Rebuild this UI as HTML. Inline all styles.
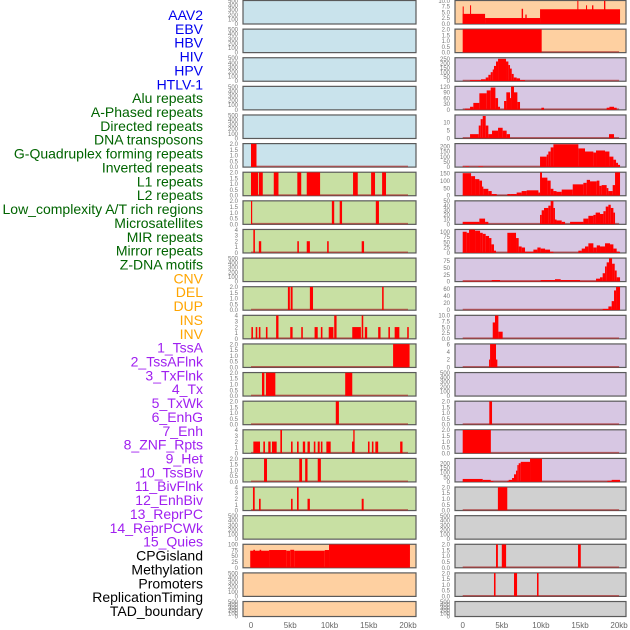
<!DOCTYPE html>
<html><head><meta charset="utf-8"><style>
body{margin:0;background:#fff;}
svg{display:block;font-family:"Liberation Sans",sans-serif;}
</style></head><body>
<svg id="chart" width="630" height="630" viewBox="0 0 630 630"></svg>
<script>
const labels=["AAV2","EBV","HBV","HIV","HPV","HTLV-1","Alu repeats","A-Phased repeats","Directed repeats","DNA transposons","G-Quadruplex forming repeats","Inverted repeats","L1 repeats","L2 repeats","Low_complexity A/T rich regions","Microsatellites","MIR repeats","Mirror repeats","Z-DNA motifs","CNV","DEL","DUP","INS","INV","1_TssA","2_TssAFlnk","3_TxFlnk","4_Tx","5_TxWk","6_EnhG","7_Enh","8_ZNF_Rpts","9_Het","10_TssBiv","11_BivFlnk","12_EnhBiv","13_ReprPC","14_ReprPCWk","15_Quies","CPGisland","Methylation","Promoters","ReplicationTiming","TAD_boundary"];
const labelGroups=[6,13,5,15,5];
const groupColors=["#0000ee","#006400","#ffa500","#a020f0","#000000"];
const xTicks=[0,5,10,15,20];
const xTickLabels=["0","5kb","10kb","15kb","20kb"];
const leftBg=["b","b","b","b","b","b","g","g","g","g","g","g","g","g","g","g","g","g","g","p","p","p"];
const rightBg=["p","p","l","l","l","l","l","l","l","l","l","l","l","l","l","l","l","y","y","y","y","y"];
const leftYmax=[500,500,500,500,500,2,2,2,4,500,2,4,2,2,2,4,2,4,500,100,500,500];
const rightYmax=[10,2,260,120,14.5,225,155,50,110,85,65,10,6,500,2,2,250,2,500,2,2,500];
const leftSegs=[[],[],[],[],[],
[[0,0.7,2]],
[[0,0.9,2],[1.0,1.5,2],[2.9,3.5,2],[5.9,6.4,2],[7.1,8.8,2],[13,13.6,2],[15.3,15.8,2],[16.7,17.2,2]],
[[0,0.15,2],[10.3,10.6,2],[11.3,11.6,2],[15.9,16.3,2]],
[[0.3,0.5,4],[1.0,1.3,2],[5.9,6.1,2],[7.1,7.5,2],[9.7,9.9,2],[14.1,14.4,2]],
[],
[[4.7,4.95,2],[5.05,5.3,2],[7.5,7.9,2],[16.7,16.9,2]],
[[0.05,0.25,2],[0.6,0.8,2],[1.0,1.2,2],[1.9,2.1,2],[3.2,3.5,4],[5.0,5.3,2],[6.4,6.6,2],[8.1,8.5,2],[8.9,9.1,2],[9.9,10.5,2],[10.6,10.9,4],[12.9,14.0,2],[14.1,14.3,4],[14.5,14.8,2],[16.2,16.5,2],[17.5,17.7,2],[18.3,18.9,2],[19.9,20.1,2]],
[[18.1,20.2,2]],
[[1.4,1.7,2],[1.9,3.1,2],[12,12.9,2]],
[[10.8,11.2,2]],
[[0.3,1.15,2],[1.57,1.78,2],[2.2,2.5,2],[2.67,3.27,2],[3.74,3.95,4],[5.1,5.3,2],[5.86,6.07,2],[6.6,6.9,2],[7.2,7.5,2],[8.0,8.2,2],[8.5,8.75,2],[8.9,9.1,2],[9.6,10.15,2],[12.87,13.08,2],[13.03,13.2,4],[14.9,15.1,2],[15.4,15.6,2],[15.84,16.2,2],[19,19.3,2]],
[[1.66,2.04,2],[6.15,6.5,2],[6.9,7.2,2],[8.5,8.9,2]],
[[0.25,0.47,4],[1.02,1.23,2],[5.1,5.3,2],[5.86,6.07,4],[7.2,7.5,2],[14.1,14.35,2]],
[],
[[-0.1,2.3,73],[0.3,0.5,77],[1.1,1.3,77],[2.3,4.5,76],[4.5,5.0,73],[5.0,5.5,77],[5.5,9.4,73],[9.4,9.94,76],[9.94,20.25,100]],
[],[]];
const rightSegs=[
[[0,2.86,4.3],[0,0.13,7.5],[0.94,1.07,8],[2.86,9.89,2.5],[7.54,7.72,6.5],[8.01,8.18,4],[9.89,20.12,6.3],[14.66,14.79,10],[15.77,15.9,8],[16.54,16.71,8],[18.07,18.24,10]],
[[0,10.1,2]],
[[0.94,2.34,10],[2.34,2.94,20],[2.94,3.28,40],[3.28,3.58,70],[3.58,3.84,100],[3.84,4.0,130],[4.0,4.26,170],[4.26,4.52,220],[4.52,5.54,250],[5.54,5.84,220],[5.84,6.05,180],[6.05,6.27,140],[6.27,6.52,80],[6.52,6.9,40],[6.9,7.33,30],[7.33,7.97,10]],
[[0.3,0.94,5],[0.94,1.36,15],[1.36,2.13,35],[2.13,3.07,85],[3.07,3.58,100],[3.58,4.18,115],[4.18,4.52,60],[4.52,4.77,15],[5.29,5.58,45],[5.58,6.05,90],[6.05,6.18,60],[6.18,6.56,120],[6.56,6.99,90],[6.99,7.33,40],[10.06,10.4,10],[18.41,18.76,10],[18.76,19.35,15],[19.35,19.69,10]],
[[0.94,2.05,2.6],[2.05,2.3,8],[2.3,2.56,12],[2.56,2.94,14],[2.94,3.28,8],[3.28,3.75,2.6],[3.75,4.52,4.8],[4.52,5.11,6.6],[5.11,5.62,4.8],[5.62,6.05,2.6],[18.71,19.35,2.6]],
[[0,0.13,5],[0.34,0.81,5],[2.0,2.6,5],[9.89,10.74,100],[10.74,10.95,120],[10.95,11.25,150],[11.25,11.6,190],[11.6,14.79,220],[14.79,15.64,180],[15.64,16.71,150],[16.71,17.05,140],[17.05,18.2,160],[18.2,18.76,150],[18.76,19.27,100],[19.27,19.61,70],[19.61,19.86,40],[19.86,20.12,20]],
[[0,1.07,150],[1.07,1.58,130],[1.58,2.13,110],[2.13,2.47,100],[2.47,2.64,60],[2.64,3.28,45],[3.28,3.71,30],[3.71,4.35,10],[5.71,6.14,10],[6.14,6.9,10],[6.9,7.54,20],[7.54,8.18,30],[8.18,9.68,35],[9.68,9.89,20],[9.89,10.14,155],[10.14,10.83,120],[10.83,11.25,100],[11.25,11.6,45],[11.6,12.0,30],[12.0,12.66,25],[12.66,14.07,40],[14.07,15.43,75],[15.43,15.86,85],[15.86,16.28,105],[16.28,17.14,95],[17.14,17.48,100],[17.48,17.77,65],[17.77,18.41,70],[18.41,18.63,50],[18.63,19.18,30],[19.18,19.48,70],[19.48,20.12,155]],
[[0,2.13,5],[2.13,2.86,12],[2.86,3.28,5],[9.89,10.1,20],[10.1,10.4,30],[10.4,10.95,35],[10.95,11.25,40],[11.25,11.6,50],[11.6,11.8,35],[11.8,12.0,10],[12.0,12.66,8],[12.66,13.09,5],[13.73,15.43,5],[15.43,16.07,12],[16.07,16.71,18],[16.71,17.0,20],[17.0,17.56,25],[17.56,17.99,22],[17.99,18.29,28],[18.29,18.63,38],[18.63,18.93,42],[18.93,19.27,35],[19.27,19.48,25]],
[[0,0.51,100],[0.51,0.81,95],[0.81,1.58,110],[1.58,2.22,105],[2.22,2.56,95],[2.56,2.94,90],[2.94,3.37,80],[3.37,3.67,70],[3.67,4.0,40],[4.0,4.26,10],[5.71,6.05,95],[6.05,6.82,95],[6.82,7.16,70],[7.16,7.54,30],[7.54,7.97,25],[7.97,9.04,5],[9.04,9.55,15],[9.55,9.97,25],[9.97,10.53,20],[10.53,11.17,15],[11.17,11.6,5],[14.79,15.22,10],[15.22,15.64,20],[15.64,16.07,30],[16.07,16.71,45],[16.71,17.14,25],[17.14,17.56,35],[17.56,18.2,30],[18.2,18.84,45],[18.84,19.27,40],[19.27,19.69,20],[19.69,20.12,5]],
[[0,3.71,2],[3.71,4.77,5],[4.77,9.97,2],[9.97,11.8,5],[11.8,12.53,8],[12.53,15.0,5],[15.0,17.05,2],[17.05,17.56,10],[17.56,17.9,15],[17.9,18.2,30],[18.2,18.41,55],[18.41,18.71,70],[18.71,19.1,85],[19.1,19.44,65],[19.44,19.69,40],[19.69,20.12,15]],
[[17.9,18.63,3],[18.63,19.05,10],[19.05,19.35,25],[19.35,19.61,55],[19.61,20.12,65]],
[[3.84,4.13,7],[4.13,4.56,10],[4.56,5.11,3]],
[[3.37,3.5,2],[3.5,4.26,6],[4.26,4.43,2]],
[],
[[3.4,3.75,2]],
[[0,3.6,2]],
[[0,2.56,30],[2.56,3.58,20],[3.58,3.92,8],[5.71,5.88,10],[5.88,6.31,20],[6.31,6.56,40],[6.56,6.82,80],[6.82,6.99,120],[6.99,7.16,180],[7.16,7.42,200],[7.42,8.61,215],[8.61,10.14,250],[18.5,19.05,10],[19.05,20.12,20]],
[[4.5,5.7,2]],
[],
[[4.26,4.5,2],[5.0,5.55,2],[14.75,15.1,2]],
[[4.0,4.2,2],[6.56,6.95,2],[9.5,9.7,2]],
[]];
function ticksFor(m){
  if(m===500) return [[0,"0"],[100,"100"],[200,"200"],[300,"300"],[400,"400"],[500,"500"]];
  if(m===2) return [[0,"0.0"],[0.5,"0.5"],[1,"1.0"],[1.5,"1.5"],[2,"2.0"]];
  if(m===4) return [[0,"0"],[1,"1"],[2,"2"],[3,"3"],[4,"4"]];
  if(m===10) return [[0,"0.0"],[2.5,"2.5"],[5,"5.0"],[7.5,"7.5"],[10,"10.0"]];
  if(m===100) return [[0,"0"],[25,"25"],[50,"50"],[75,"75"],[100,"100"]];
  if(m===260) return [[0,"0"],[50,"50"],[100,"100"],[150,"150"],[200,"200"],[250,"250"]];
  if(m===250||m===225) return [[0,"0"],[50,"50"],[100,"100"],[150,"150"],[200,"200"]];
  if(m===120) return [[0,"0"],[30,"30"],[60,"60"],[90,"90"],[120,"120"]];
  if(m===14.5) return [[0,"0"],[5,"5"],[10,"10"]];
  if(m===155) return [[0,"0"],[50,"50"],[100,"100"],[150,"150"]];
  if(m===50) return [[0,"0"],[10,"10"],[20,"20"],[30,"30"],[40,"40"],[50,"50"]];
  if(m===110) return [[0,"0"],[25,"25"],[50,"50"],[75,"75"],[100,"100"]];
  if(m===85) return [[0,"0"],[25,"25"],[50,"50"],[75,"75"]];
  if(m===65) return [[0,"0"],[20,"20"],[40,"40"],[60,"60"]];
  if(m===6) return [[0,"0"],[2,"2"],[4,"4"],[6,"6"]];
  return [[0,"0"]];
}
const svg=document.getElementById('chart');
const NS="http://www.w3.org/2000/svg";
function mk(tag,attrs){const e=document.createElementNS(NS,tag);for(const k in attrs)e.setAttribute(k,attrs[k]);svg.appendChild(e);return e;}
const bgColors={b:"#c9e3ec",g:"#c8e0a3",p:"#fed0a1",l:"#d7c7e3",y:"#d0d0d0"};
const rowTop=i=>i*28.62;
const rowH=i=>i===21?16:24.5;
const cols=[{x1:243,x2:416,x0:251,sc:7.85,tx:238,bg:leftBg,ym:leftYmax,segs:leftSegs,name:"left"},
            {x1:455,x2:626,x0:462.7,sc:7.82,tx:450,bg:rightBg,ym:rightYmax,segs:rightSegs,name:"right"}];
// labels
let li=0;
labelGroups.forEach((n,g)=>{for(let k=0;k<n;k++){
  const t=mk('text',{x:203,y:(15+li*13.86+5).toFixed(1),'text-anchor':'end','font-size':'14',fill:groupColors[g]});
  t.textContent=labels[li];
  
  
  li++;}});
cols.forEach(c=>{
  const xs=kb=>c.x0+kb*c.sc;
  for(let i=0;i<22;i++){
    const top=rowTop(i),h=rowH(i),bot=top+h-0.7,m=c.ym[i];
    const ys=v=>bot-(v/m)*(h-1.4);
    const r=mk('rect',{x:c.x1,y:top+0.5,width:c.x2-c.x1,height:h-1,fill:bgColors[c.bg[i]],stroke:"#5a5a5a","stroke-width":1.2});
    
    
    const segs=c.segs[i];
    if(segs.length){
      const bl=mk('line',{x1:xs(0),x2:xs(20),y1:bot-0.5,y2:bot-0.5,stroke:"rgba(170,40,40,0.65)","stroke-width":1.5});
      
      
    }
    segs.forEach((s,j)=>{
      const y=ys(s[2]);
      const b=mk('rect',{x:xs(s[0]).toFixed(2),y:y.toFixed(2),width:Math.max(0.8,(s[1]-s[0])*c.sc).toFixed(2),height:(bot-y).toFixed(2),fill:"#ff0000"});
      
      
    });
    ticksFor(m).forEach(t=>{
      const tt=mk('text',{x:c.tx,y:(ys(t[0])+2.2).toFixed(1),'text-anchor':'end','font-size':'6',fill:"#777"});
      tt.textContent=t[1];
      
      
    });
  }
  xTicks.forEach((v,k)=>{
    const t=mk('text',{x:xs(v),y:628,'text-anchor':'middle','font-size':'8',fill:"#666"});
    t.textContent=xTickLabels[k];
    
    
  });
});
</script>
</body></html>
